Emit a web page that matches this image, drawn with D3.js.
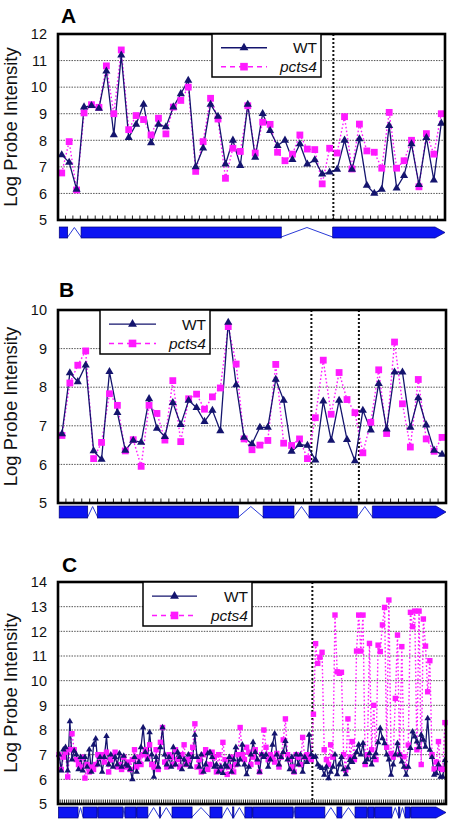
<!DOCTYPE html>
<html><head><meta charset="utf-8">
<script src="https://cdn.jsdelivr.net/npm/d3@7"></script>
<style>
body{margin:0;background:#fff;}
svg{display:block;font-family:"Liberation Sans",Arial,Helvetica,sans-serif;}
</style>
</head><body>
<svg id="chart" width="453" height="825"></svg>
<script>
// ---------------- DATA ----------------
const SERIES = ["WT", "pcts4"];

// Panel A
const A_Y_TICKS = [5, 6, 7, 8, 9, 10, 11, 12];
const A_WT = [7.45,7.17,6.15,9.25,9.3,9.2,10.6,8.2,11.2,8.1,8.6,9.35,7.9,8.6,8.5,9.25,9.75,10.25,7.0,7.7,9.35,8.9,7.1,8.0,7.05,9.35,
  7.36,9.0,8.36,7.8,8.0,7.27,7.86,7.1,7.26,6.73,6.8,6.9,8.0,6.9,8.05,6.3,6.0,6.15,8.55,6.2,6.67,7.86,6.33,8.1,6.5,8.64];
const A_PCTS4 = [6.77,7.95,6.13,9.03,9.34,9.24,10.8,9.0,11.4,8.4,8.93,8.78,8.2,8.83,8.24,9.25,9.5,10.0,6.83,7.95,9.58,8.8,6.57,7.7,7.58,9.3,
  7.52,8.68,8.6,7.55,7.23,7.48,8.2,7.67,7.65,6.36,7.7,7.52,8.89,6.92,8.61,7.6,7.55,6.95,9.05,6.95,7.23,8.0,6.25,8.25,7.48,9.0];
const A_DIVIDERS = [37];
const A_EXONS = [[0.17,1.3],[3.1,30],[36.9,52]];

// Panel B
const B_Y_TICKS = [5, 6, 7, 8, 9, 10];
const B_WT = [6.79,8.37,8.14,8.57,6.35,6.13,8.4,7.34,6.36,6.62,6.57,7.7,6.93,6.72,7.6,7.03,7.66,7.47,7.11,7.4,6.87,9.68,8.06,6.7,6.53,
  6.96,6.96,8.2,7.66,6.34,6.51,6.49,6.11,7.64,6.62,7.66,6.64,6.09,7.4,6.89,8.09,6.91,8.39,8.39,6.96,7.72,7.02,6.36,6.26];
const B_PCTS4 = [6.75,8.11,8.57,8.94,6.15,6.57,7.83,7.53,6.35,6.64,5.95,7.53,7.32,6.63,8.17,6.59,7.7,7.82,7.43,7.75,7.98,9.57,8.6,6.66,6.38,
  6.5,6.62,8.59,6.55,6.49,6.66,6.15,7.21,8.7,7.3,8.38,7.68,7.34,6.3,7.09,8.45,6.8,9.17,7.57,6.45,8.2,6.66,6.34,6.7];
const B_DIVIDERS = [32, 38];
const B_EXONS = [[0.15,3.75],[5,22.8],[25.9,29.8],[31.7,37.8],[39.7,49]];

// Panel C
const C_Y_TICKS = [5, 6, 7, 8, 9, 10, 11, 12, 13, 14];
const C_WT = [
  7.0,6.35,7.2,7.3,6.35,8.35,6.8,7.15,7.0,6.4,
  6.9,6.35,6.9,6.5,7.2,6.3,7.4,7.65,6.6,6.9,
  6.3,6.9,7.75,6.6,7.0,6.5,6.9,6.6,7.05,6.5,
  6.95,6.6,6.55,6.4,6.0,6.9,6.3,6.7,7.3,8.1,
  7.1,6.8,7.9,7.0,6.1,6.9,6.5,7.3,8.1,7.0,
  6.6,6.9,6.5,7.3,6.6,7.1,6.9,6.4,6.8,6.6,
  7.0,6.5,6.9,7.8,6.9,6.5,7.0,6.3,6.6,7.05,
  7.1,6.9,6.5,6.6,6.3,6.5,6.25,6.6,6.5,6.9,
  6.3,6.8,7.3,6.6,6.8,7.4,6.6,6.2,6.5,7.0,
  7.5,7.1,6.8,6.3,7.0,6.9,7.0,6.5,6.8,7.4,
  7.85,7.0,6.6,6.9,7.1,7.55,6.8,6.4,6.9,6.3,
  7.0,6.6,7.0,6.3,6.9,6.7,7.8,7.0,
  6.9,6.92,6.6,6.5,6.45,6.18,6.5,6.04,6.3,6.5,
  7.0,6.2,6.6,6.9,6.4,6.2,6.47,6.78,6.7,6.9,
  7.1,7.4,7.0,7.46,6.7,6.8,7.05,6.6,6.9,7.05,
  7.5,8.07,7.66,7.46,7.0,6.8,6.18,6.6,7.0,7.46,
  7.0,6.72,6.5,6.18,6.5,7.26,7.93,7.73,7.53,7.3,
  7.8,7.6,7.32,8.47,7.19,6.9,6.18,6.24,6.6,6.1,
  6.1,6.77];
const C_PCTS4 = [
  7.0,6.4,6.9,7.1,6.1,7.2,7.85,7.2,6.8,6.6,
  6.5,6.9,6.05,6.6,6.3,6.5,6.4,6.6,7.0,6.9,
  7.0,6.7,7.1,6.3,6.8,6.95,7.1,6.5,6.6,6.4,
  6.9,6.5,6.7,6.4,6.8,7.2,6.5,6.9,6.6,7.0,
  7.2,6.9,7.4,6.6,6.5,7.2,6.4,7.5,8.1,6.7,
  6.5,7.0,6.9,6.6,7.2,6.8,6.5,7.0,7.4,6.6,
  6.8,7.0,7.3,8.25,6.5,6.8,6.3,7.0,7.2,6.4,
  6.6,7.1,6.9,6.3,7.0,6.4,7.5,6.8,6.2,6.5,
  6.9,6.3,6.6,7.0,8.1,7.0,6.8,7.3,7.1,6.6,
  6.9,7.2,6.7,6.3,7.0,8.0,7.3,6.8,7.0,6.9,
  6.7,7.05,6.5,6.9,7.6,8.45,7.0,6.8,6.5,6.3,
  7.0,6.9,6.6,7.7,6.9,7.0,6.85,6.8,
  8.64,11.5,10.7,10.95,11.15,7.2,6.8,6.6,7.4,6.9,
  12.66,10.36,10.3,10.34,7.0,6.38,8.45,6.9,7.53,6.8,
  11.2,12.66,11.2,12.66,6.6,7.0,11.51,7.2,9.0,6.8,
  11.44,11.18,12.26,12.97,7.3,13.27,7.05,6.9,9.28,11.85,
  7.0,11.38,6.92,6.5,7.39,12.77,12.19,12.82,7.2,12.82,
  6.6,12.5,11.4,9.55,10.81,7.0,6.42,6.7,7.53,6.45,
  6.4,8.3];
const C_DIVIDERS = [118];
const C_EXONS = [[0.2,9.3],[11.6,18.1],[18.6,30.1],[31.1,36.2],[36.6,41.7],[47,47.6],[52.9,62.2],[70.5,76.1],[81,81.6],
  [86.7,90],[90.4,109],[110,123.8],[129.4,131.7],[137.8,143.3],[143.8,146.6],[147,154.9],[158,158.6],[161,163.3],[163.7,180]];

// ---------------- DRAWING ----------------
const svg = d3.select("#chart");
const WT_COLOR = "#14146e";
const PK_COLOR = "#ff1aff";
const GENE_FILL = "#0c14f2";
const GENE_LINE = "#2a3ad8";

function drawPanel(p) {
  const g = svg.append("g");
  const n = p.wt.length;
  const x = d3.scaleLinear().domain([0, n]).range([p.left, p.right]);
  const y = d3.scaleLinear().domain([p.yTicks[0], p.yTicks[p.yTicks.length - 1]]).range([p.bottom, p.top]);
  const cx = i => x(i + 0.5);

  // gridlines
  g.selectAll("line.grid").data(p.yTicks.slice(1, -1)).join("line").attr("class", "grid")
    .attr("x1", p.left).attr("x2", p.right)
    .attr("y1", d => y(d)).attr("y2", d => y(d))
    .attr("stroke", "#555").attr("stroke-width", 1).attr("stroke-dasharray", "1.5,1.2");

  // y tick labels
  g.selectAll("text.yl").data(p.yTicks).join("text").attr("class", "yl")
    .attr("x", p.left - 11).attr("y", d => y(d)).attr("dy", "0.36em")
    .attr("text-anchor", "end").attr("font-size", 14.5).attr("fill", "#111").text(d => d);

  // x tick marks (category boundaries)
  g.selectAll("line.xt").data(d3.range(1, n)).join("line").attr("class", "xt")
    .attr("x1", d => x(d)).attr("x2", d => x(d))
    .attr("y1", p.bottom).attr("y2", p.bottom - 4.5)
    .attr("stroke", "#222").attr("stroke-width", 1);

  // vertical dividers
  g.selectAll("line.div").data(p.dividers).join("line").attr("class", "div")
    .attr("x1", d => x(d)).attr("x2", d => x(d))
    .attr("y1", p.top).attr("y2", p.bottom)
    .attr("stroke", "#111").attr("stroke-width", 2).attr("stroke-dasharray", "2,2");

  // pcts4 line (dotted)
  const line = d3.line().x((d, i) => cx(i)).y(d => y(d));
  g.append("path").datum(p.pk).attr("d", line).attr("fill", "none")
    .attr("stroke", PK_COLOR).attr("stroke-width", 1.4).attr("stroke-dasharray", "1.6,2.2");
  // WT line
  g.append("path").datum(p.wt).attr("d", line).attr("fill", "none")
    .attr("stroke", WT_COLOR).attr("stroke-width", 1.3);

  // pcts4 squares
  const s = p.marker;
  g.selectAll("rect.pk").data(p.pk).join("rect").attr("class", "pk")
    .attr("x", (d, i) => cx(i) - s / 2).attr("y", d => y(d) - s / 2)
    .attr("width", s).attr("height", s).attr("fill", PK_COLOR);
  // WT triangles
  const tri = d3.symbol(d3.symbolTriangle, s * s * 0.62);
  g.selectAll("path.wt").data(p.wt).join("path").attr("class", "wt")
    .attr("d", tri).attr("transform", (d, i) => `translate(${cx(i)},${y(d)})`)
    .attr("fill", WT_COLOR);

  // frame
  g.append("rect").attr("x", p.left).attr("y", p.top)
    .attr("width", p.right - p.left).attr("height", p.bottom - p.top)
    .attr("fill", "none").attr("stroke", "#000").attr("stroke-width", 2.6);

  // legend
  const L = p.legend;
  const lg = g.append("g");
  lg.append("rect").attr("x", L.x).attr("y", p.top).attr("width", L.w).attr("height", L.h)
    .attr("fill", "#fff").attr("stroke", "#000").attr("stroke-width", 1.5);
  const rows = [L.h * 0.32, L.h * 0.76];
  SERIES.forEach((name, k) => {
    const yy = p.top + rows[k];
    lg.append("line").attr("x1", L.x + 9).attr("x2", L.x + L.lineW + 9).attr("y1", yy).attr("y2", yy)
      .attr("stroke", k === 0 ? WT_COLOR : PK_COLOR).attr("stroke-width", 1.4)
      .attr("stroke-dasharray", k === 0 ? null : "5,4");
    const mx = L.x + 9 + L.lineW / 2;
    if (k === 0) {
      lg.append("path").attr("d", d3.symbol(d3.symbolTriangle, 34)).attr("transform", `translate(${mx},${yy})`).attr("fill", WT_COLOR);
    } else {
      lg.append("rect").attr("x", mx - 3.8).attr("y", yy - 3.8).attr("width", 7.6).attr("height", 7.6).attr("fill", PK_COLOR);
    }
    lg.append("text").attr("x", L.x + L.w - 4).attr("y", yy).attr("dy", "0.36em")
      .attr("text-anchor", "end").attr("font-size", 15.5).attr("fill", "#111")
      .attr("font-style", k === 1 ? "italic" : "normal").text(name);
  });

  // gene model
  const gt = p.geneTop, gb = p.geneTop + p.geneH, gm = (gt + gb) / 2;
  const ex = p.exons;
  // introns
  for (let k = 0; k < ex.length - 1; k++) {
    const a = x(ex[k][1]), b = x(ex[k + 1][0]);
    g.append("polyline").attr("points", `${a},${gb - 1} ${(a + b) / 2},${gt + 0.5} ${b},${gb - 1}`)
      .attr("fill", "none").attr("stroke", GENE_LINE).attr("stroke-width", 1);
  }
  ex.forEach((e, k) => {
    const a = x(e[0]), b = x(e[1]);
    if (k === ex.length - 1) {
      const t = b - 10;
      g.append("polygon").attr("points", `${a},${gt} ${t},${gt} ${b},${gm} ${t},${gb} ${a},${gb}`)
        .attr("fill", GENE_FILL).attr("stroke", "#00007a").attr("stroke-width", 0.7);
    } else {
      g.append("rect").attr("x", a).attr("y", gt).attr("width", Math.max(0.8, b - a)).attr("height", p.geneH)
        .attr("fill", GENE_FILL).attr("stroke", "#00007a").attr("stroke-width", 0.7);
    }
  });

  // axis title
  g.append("text").attr("transform", `translate(17,${(p.top + p.bottom) / 2}) rotate(-90)`)
    .attr("text-anchor", "middle").attr("font-size", 18.5).attr("fill", "#111").text("Log Probe Intensity");

  // panel letter
  g.append("text").attr("x", p.letterX).attr("y", p.letterY).attr("font-size", 21).attr("font-weight", "bold")
    .attr("fill", "#000").text(p.letter);
}

drawPanel({letter: "A", letterX: 61, letterY: 23, wt: A_WT, pk: A_PCTS4, yTicks: A_Y_TICKS, dividers: A_DIVIDERS, exons: A_EXONS,
  left: 58, right: 445, top: 34, bottom: 220, marker: 6.8, geneTop: 227, geneH: 11,
  legend: {x: 212, w: 109, h: 43, lineW: 46}});
drawPanel({letter: "B", letterX: 59, letterY: 297, wt: B_WT, pk: B_PCTS4, yTicks: B_Y_TICKS, dividers: B_DIVIDERS, exons: B_EXONS,
  left: 58, right: 446, top: 310, bottom: 503, marker: 6.8, geneTop: 506, geneH: 12,
  legend: {x: 100, w: 110, h: 44, lineW: 47}});
drawPanel({letter: "C", letterX: 62, letterY: 572, wt: C_WT, pk: C_PCTS4, yTicks: C_Y_TICKS, dividers: C_DIVIDERS, exons: C_EXONS,
  left: 58, right: 446, top: 582, bottom: 804, marker: 5.4, geneTop: 807, geneH: 11,
  legend: {x: 143, w: 109, h: 44, lineW: 45}});
</script>
</body></html>
